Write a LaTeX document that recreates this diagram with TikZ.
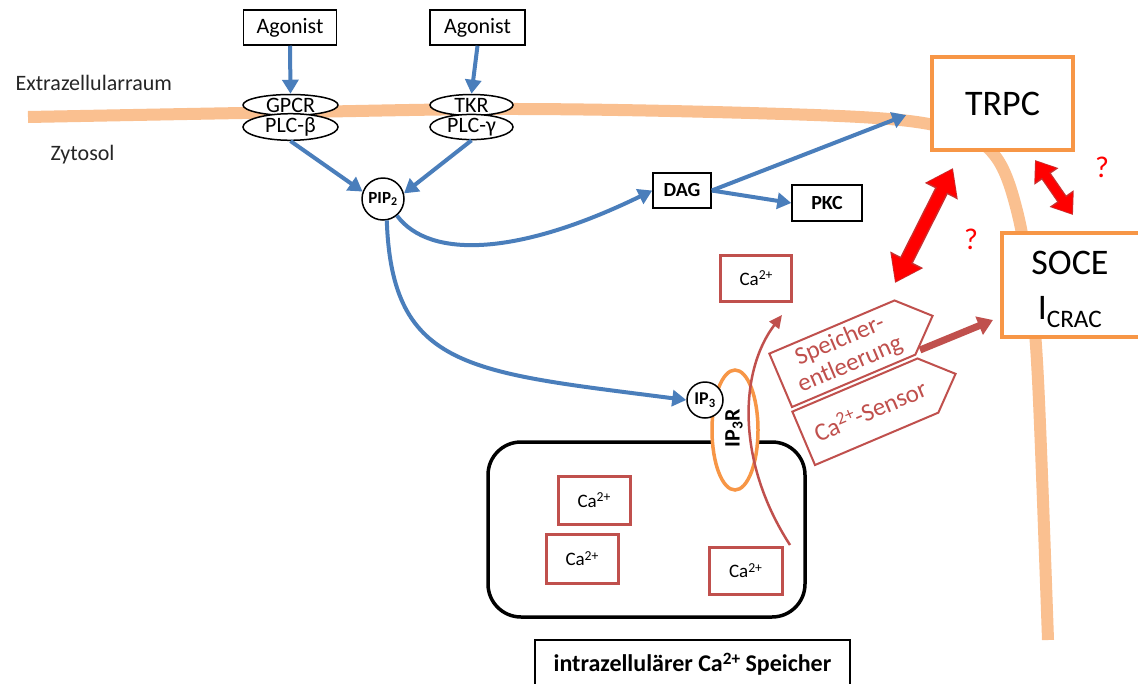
\documentclass[tikz,border=0pt]{standalone}
\usepackage{fontspec}
\setmainfont{Carlito}
\usetikzlibrary{arrows.meta,shapes.geometric,calc}
\definecolor{memb}{HTML}{FAC090}
\definecolor{blu}{HTML}{4A7EBB}
\definecolor{org}{HTML}{F79646}
\definecolor{dred}{HTML}{C0504D}
\definecolor{rdark}{HTML}{C83030}
\definecolor{txtg}{HTML}{262626}
\newcommand{\fsz}[2]{\fontsize{#1}{#2}\selectfont}
\newcommand{\supx}[1]{\raisebox{0.3em}{\scalebox{0.72}{#1}}}
\begin{document}
\begin{tikzpicture}[x=1pt,y=-1pt,
  box/.style={draw=black, line width=1.5pt, fill=white, inner sep=0pt},
  ell/.style={draw=black, ellipse, fill=white, line width=1.5pt, inner sep=0pt, minimum height=21pt, font=\fsz{22}{24}},
  circ/.style={draw=black, circle, fill=white, line width=1.5pt, inner sep=0pt},
  orbox/.style={draw=org, line width=3.5pt, fill=white, inner sep=0pt, font=\fsz{36}{40}},
  cabox/.style={draw=dred, line width=3pt, fill=white, inner sep=0pt, minimum width=71pt, minimum height=46pt, font=\fsz{19}{20}},
  barrow/.style={draw=blu, line width=4pt, -{Triangle[length=14pt,width=16pt]}},
  pent/.style={draw=dred, line width=2pt, fill=white, line join=miter},
  penttext/.style={text=dred, align=center, rotate=23, font=\fsz{25}{26}},
  qm/.style={text=red, font=\fsz{30}{32}},
  lbl/.style={text=txtg, anchor=base west, font=\fsz{22}{24}}
]
\clip (0,0) rectangle (1138,683);
\fill[white] (0,0) rectangle (1138,683);

% membrane
\draw[memb, line width=12pt] plot[smooth, tension=0.6] coordinates {(28,117) (300,112) (520,109) (750,113) (900,120) (965,135) (998,160) (1018,215) (1030,290) (1038,380) (1048,640)};

% labels
\node[lbl] (extra) at (12,90) {Extrazellularraum};
\node[lbl] (zyto) at (47,160) {Zytosol};

% agonists and receptors
\node[box, minimum width=93pt, minimum height=35pt, font=\fsz{22}{24}] (ag1) at (290,27.5) {Agonist};
\node[box, minimum width=95pt, minimum height=35pt, font=\fsz{22}{24}] (ag2) at (477.5,27.5) {Agonist};
\node[ell, minimum width=95pt] (gpcr) at (290.5,105) {GPCR};
\node[ell, minimum width=95pt] (plcb) at (290.5,127) {PLC-β};
\node[ell, minimum width=83pt] (tkr) at (471.5,105) {TKR};
\node[ell, minimum width=83pt] (plcg) at (471.5,127) {PLC-γ};

\node[circ, minimum size=42pt, font=\bfseries\fsz{17}{18}] (pip) at (383,199) {PIP\textsubscript{2}};
\node[box, minimum width=58pt, minimum height=35pt, font=\bfseries\fsz{20}{22}] (dag) at (682,190.5) {DAG};
\node[box, minimum width=70pt, minimum height=36pt, font=\bfseries\fsz{20}{22}] (pkc) at (827,203) {PKC};

% channels
\node[orbox, minimum width=141pt, minimum height=93pt] (trpc) at (1002.5,103.5) {TRPC};
\node[orbox, minimum width=143pt, minimum height=104pt, align=center] (soce) at (1073.5,285) {};
\node[font=\fsz{36}{40}] (soceT) at (1070,263) {SOCE};
\node[font=\fsz{36}{40}] (icrac) at (1070,312) {I\textsubscript{CRAC}};

% store
\draw[black, line width=3.5pt, rounded corners=33pt] (488,442) rectangle (805,617);
\node[cabox] (catop) at (756,278) {Ca\supx{2+}};
\node[cabox, minimum width=72pt, minimum height=48pt] (ca1) at (594,500) {Ca\supx{2+}};
\node[cabox, minimum width=72pt, minimum height=49pt] (ca2) at (582,558.5) {Ca\supx{2+}};
\node[cabox, minimum width=73pt, minimum height=47pt] (ca3) at (745.5,570.5) {Ca\supx{2+}};

\node[box, minimum width=315pt, minimum height=48pt, font=\bfseries\fsz{24}{26}] (store) at (692.5,664) {intrazellulärer Ca\supx{2+} Speicher};

% IP3 receptor
\node[draw=org, ellipse, line width=3.5pt, fill=white, minimum width=46pt, minimum height=120pt, inner sep=0pt] (ip3r) at (735,430) {};
\node[rotate=90, font=\bfseries\fsz{22}{22}] (ip3rT) at (734,428) {IP\textsubscript{3}R};
\node[circ, minimum size=36pt, font=\bfseries\fsz{18}{18}] (ip3) at (705,400) {IP\textsubscript{3}};

% blue arrows
\draw[barrow] (ag1.south) -- (gpcr.north);
\draw[barrow] (ag2.south) -- (tkr.north);
\draw[barrow] (plcb.south) -- (pip.160);
\draw[barrow] (plcg.south) -- (pip.15);
\draw[barrow] (pip.-50) .. controls (430,260) and (520,255) .. (dag.west);
\draw[barrow] (pip.-80) .. controls (392,370) and (470,372) .. (ip3.west);
\draw[barrow] (dag.east) -- ([xshift=-24pt,yshift=-11.5pt]trpc.west);
\draw[barrow] (dag.east) -- (pkc.west);

% release curve
\coordinate (rs) at (790,545);
\coordinate (re) at (782,315);
\draw[dred, line width=2.5pt, -{Triangle[length=13pt,width=12pt]}] (rs) .. controls (735,460) and (740,370) .. (re);

% pentagons
\begin{scope}[shift={(792,407)}, rotate=23]
  \draw[pent] (0,0) -- (134,0) -- (165,-29) -- (136,-58) -- (0,-58) -- cycle;
  \node[penttext] (spe) at (70,-29) {Speicher-\\entleerung};
\end{scope}
\begin{scope}[shift={(815,465)}, rotate=23]
  \draw[pent] (0,0) -- (134,0) -- (165,-29) -- (136,-58) -- (0,-58) -- cycle;
  \node[penttext] (sens) at (72,-29) {Ca\supx{2+}-Sensor};
\end{scope}

% dark red arrow to SOCE
\coordinate (ds) at (920,350);
\coordinate (de) at (993,320);
\draw[dred, line width=7pt, -{Triangle[length=15pt,width=19pt]}] (ds) -- (de);

% red double arrows
\coordinate (r1a) at (895,283);
\coordinate (r1b) at (953,168);
\coordinate (r2a) at (1035,160);
\coordinate (r2b) at (1073,215);
\draw[rdark, line width=14pt, {Triangle[length=26pt,width=35pt]}-{Triangle[length=26pt,width=35pt]}] (r1a) -- (r1b);
\draw[red, line width=11pt, {Triangle[length=23pt,width=31pt]}-{Triangle[length=23pt,width=31pt]}] ($(r1a)!1.5pt!(r1b)$) -- ($(r1b)!1.5pt!(r1a)$);
\draw[rdark, line width=11pt, {Triangle[length=20pt,width=28pt]}-{Triangle[length=20pt,width=28pt]}] (r2a) -- (r2b);
\draw[red, line width=8.5pt, {Triangle[length=17pt,width=24pt]}-{Triangle[length=17pt,width=24pt]}] ($(r2a)!1.5pt!(r2b)$) -- ($(r2b)!1.5pt!(r2a)$);

\node[qm] (q1) at (1102,167) {?};
\node[qm] (q2) at (971,239) {?};
\end{tikzpicture}
\end{document}
